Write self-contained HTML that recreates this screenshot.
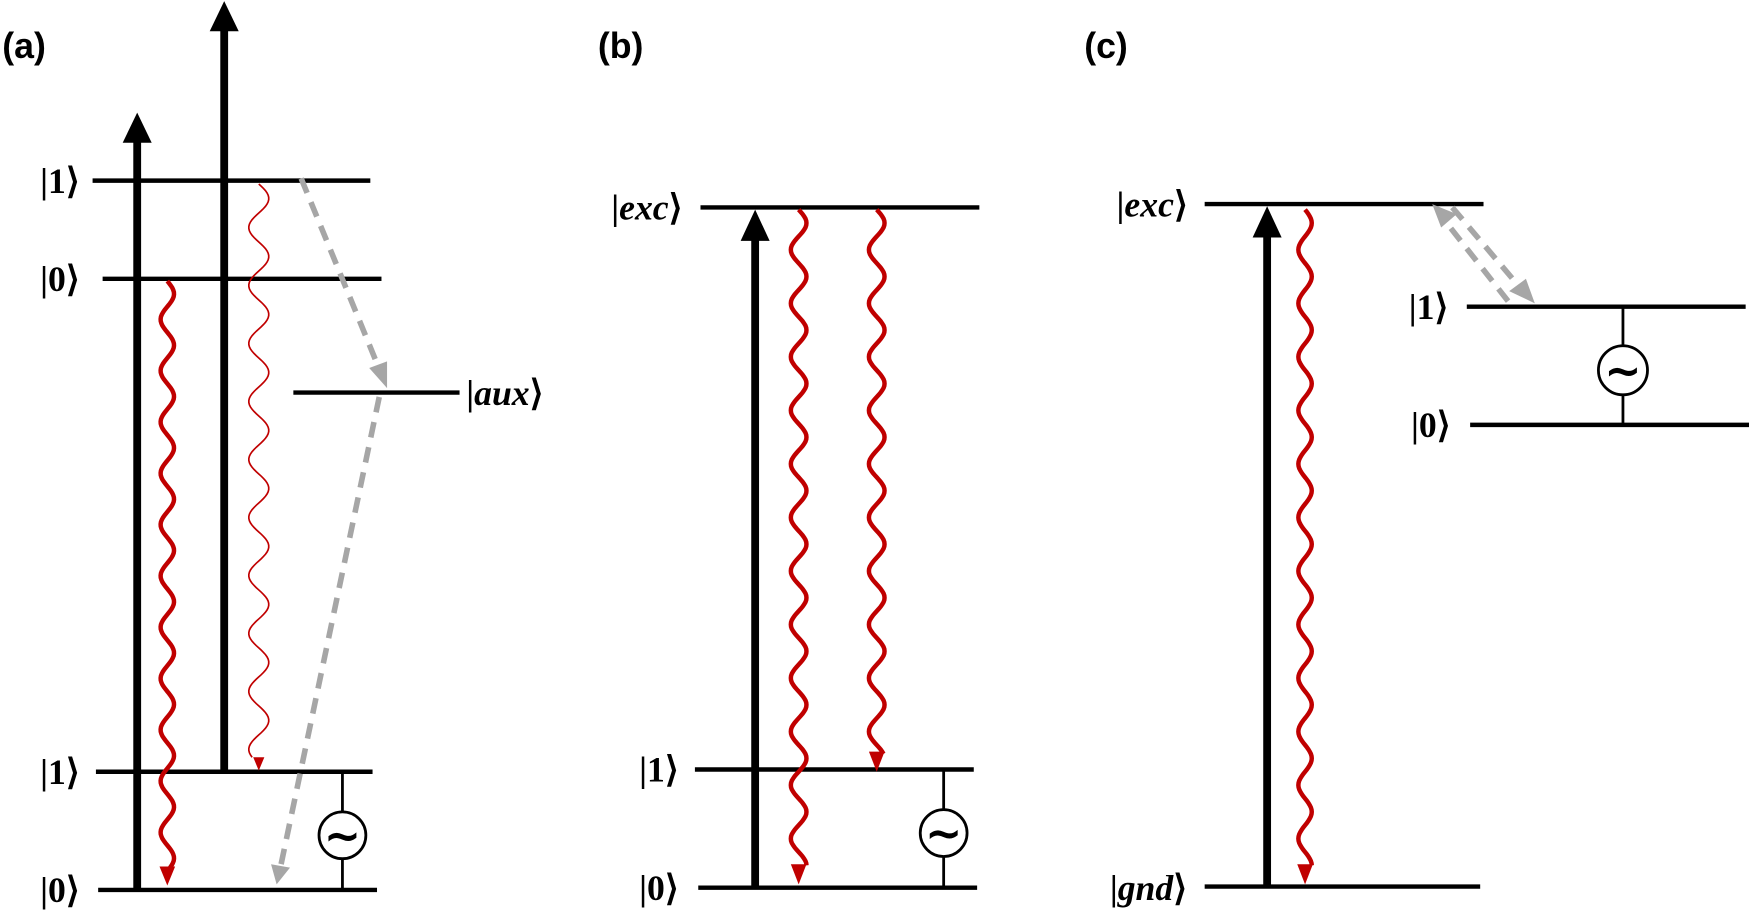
<!DOCTYPE html>
<html><head><meta charset="utf-8"><style>
html,body{margin:0;padding:0;background:#fff;}
svg{display:block;}
.lab{font-family:"Liberation Serif",serif;font-weight:bold;font-size:32px;fill:#000;}
.it{font-style:italic;}
.pl{font-family:"Liberation Sans",sans-serif;font-weight:bold;font-size:32px;fill:#000;}
.tl{font-family:"DejaVu Sans",sans-serif;font-weight:bold;font-size:40px;fill:#000;}
</style></head><body>
<svg id="s" width="1749" height="910" viewBox="0 0 1568 816" preserveAspectRatio="none" xmlns="http://www.w3.org/2000/svg">
<g stroke="#000" stroke-width="4" fill="none">
<line x1="83" y1="162" x2="332" y2="162"/>
<line x1="92" y1="250" x2="342" y2="250"/>
<line x1="263" y1="352" x2="412" y2="352"/>
<line x1="86" y1="692" x2="334" y2="692"/>
<line x1="88" y1="798" x2="338" y2="798"/>
<line x1="628" y1="186" x2="878" y2="186"/>
<line x1="623" y1="690" x2="873" y2="690"/>
<line x1="626" y1="796" x2="876" y2="796"/>
<line x1="1080" y1="183" x2="1330" y2="183"/>
<line x1="1315" y1="275" x2="1565" y2="275"/>
<line x1="1318" y1="381" x2="1568" y2="381"/>
<line x1="1080" y1="795" x2="1327" y2="795"/>
</g>
<g stroke="#000" stroke-width="7">
<line x1="123" y1="797" x2="123" y2="125"/>
<line x1="201" y1="692" x2="201" y2="25"/>
<line x1="677" y1="796" x2="677" y2="212"/>
<line x1="1136" y1="795" x2="1136" y2="210"/>
</g>
<g fill="#000">
<path d="M110,128 L123,101 L136,128 Z"/>
<path d="M188,28 L201,1 L214,28 Z"/>
<path d="M664,216 L677,188 L690,216 Z"/>
<path d="M1123,213 L1136,185 L1149,213 Z"/>
</g>
<g id="waves" fill="none" stroke="#c00000"></g>
<g fill="#c00000">
<path d="M143,777 L150,794 L157,777 Z"/>
<path d="M227,679 L232,691 L237,679 Z"/>
<path d="M709,775 L716,793 L723,775 Z"/>
<path d="M779,674 L786,692 L793,674 Z"/>
<path d="M1163,775 L1170,793 L1177,775 Z"/>
</g>
<g stroke="#a6a6a6" stroke-width="5" stroke-dasharray="14,9" fill="none">
<line x1="270" y1="160" x2="338" y2="326"/>
<line x1="340" y1="356" x2="252" y2="775"/>
<line x1="1352" y1="270" x2="1297" y2="200"/>
<line x1="1302" y1="186" x2="1362" y2="257"/>
</g>
<g fill="#a6a6a6">
<path d="M331,330 L347,348 L347,324 Z"/>
<path d="M243,775 L248,793 L260,778 Z"/>
<path d="M1284,183 L1306,192 L1292,204 Z"/>
<path d="M1353,261 L1376,272 L1368,250 Z"/>
</g>
<g stroke="#000" stroke-width="2.5" fill="#fff">
<line x1="307" y1="692" x2="307" y2="798"/>
<circle cx="307" cy="749" r="21"/>
<line x1="846" y1="690" x2="846" y2="796"/>
<circle cx="846" cy="747" r="21"/>
<line x1="1455" y1="275" x2="1455" y2="381"/>
<circle cx="1455" cy="332" r="22"/>
</g>
<g class="tl" text-anchor="middle">
<text x="307" y="763">~</text>
<text x="846" y="761">~</text>
<text x="1455" y="346">~</text>
</g>
<text class="pl" x="2" y="52">(a)</text>
<text class="pl" x="536" y="52">(b)</text>
<text class="pl" x="972" y="52">(c)</text>
<text class="lab" x="36" y="173">|1⟩</text>
<text class="lab" x="36" y="261">|0⟩</text>
<text class="lab" x="418" y="363">|<tspan class="it">aux</tspan>⟩</text>
<text class="lab" x="36" y="703">|1⟩</text>
<text class="lab" x="36" y="809">|0⟩</text>
<text class="lab" x="548" y="197">|<tspan class="it">exc</tspan>⟩</text>
<text class="lab" x="573" y="701">|1⟩</text>
<text class="lab" x="573" y="807">|0⟩</text>
<text class="lab" x="1001" y="194">|<tspan class="it">exc</tspan>⟩</text>
<text class="lab" x="1263" y="286">|1⟩</text>
<text class="lab" x="1265" y="392">|0⟩</text>
<text class="lab" x="995" y="807">|<tspan class="it">gnd</tspan>⟩</text>
</svg>
<script>
function wave(x,y0,y1,amp,per,w){
  var d="M"+x+","+y0;
  for(var y=y0;y<=y1;y+=2){
    var t=(y-y0)/per*2*Math.PI;
    d+=" L"+(x+amp*Math.sin(t)).toFixed(1)+","+y;
  }
  var p=document.createElementNS("http://www.w3.org/2000/svg","path");
  p.setAttribute("d",d);p.setAttribute("stroke-width",w);
  document.getElementById("waves").appendChild(p);
}
wave(150,252,778,6,46,4);
wave(232,165,680,9,52,1.5);
wave(716,188,776,7,48,4);
wave(786,188,676,7,48,4);
wave(1170,188,776,6,48,4);
</script>
</body></html>
